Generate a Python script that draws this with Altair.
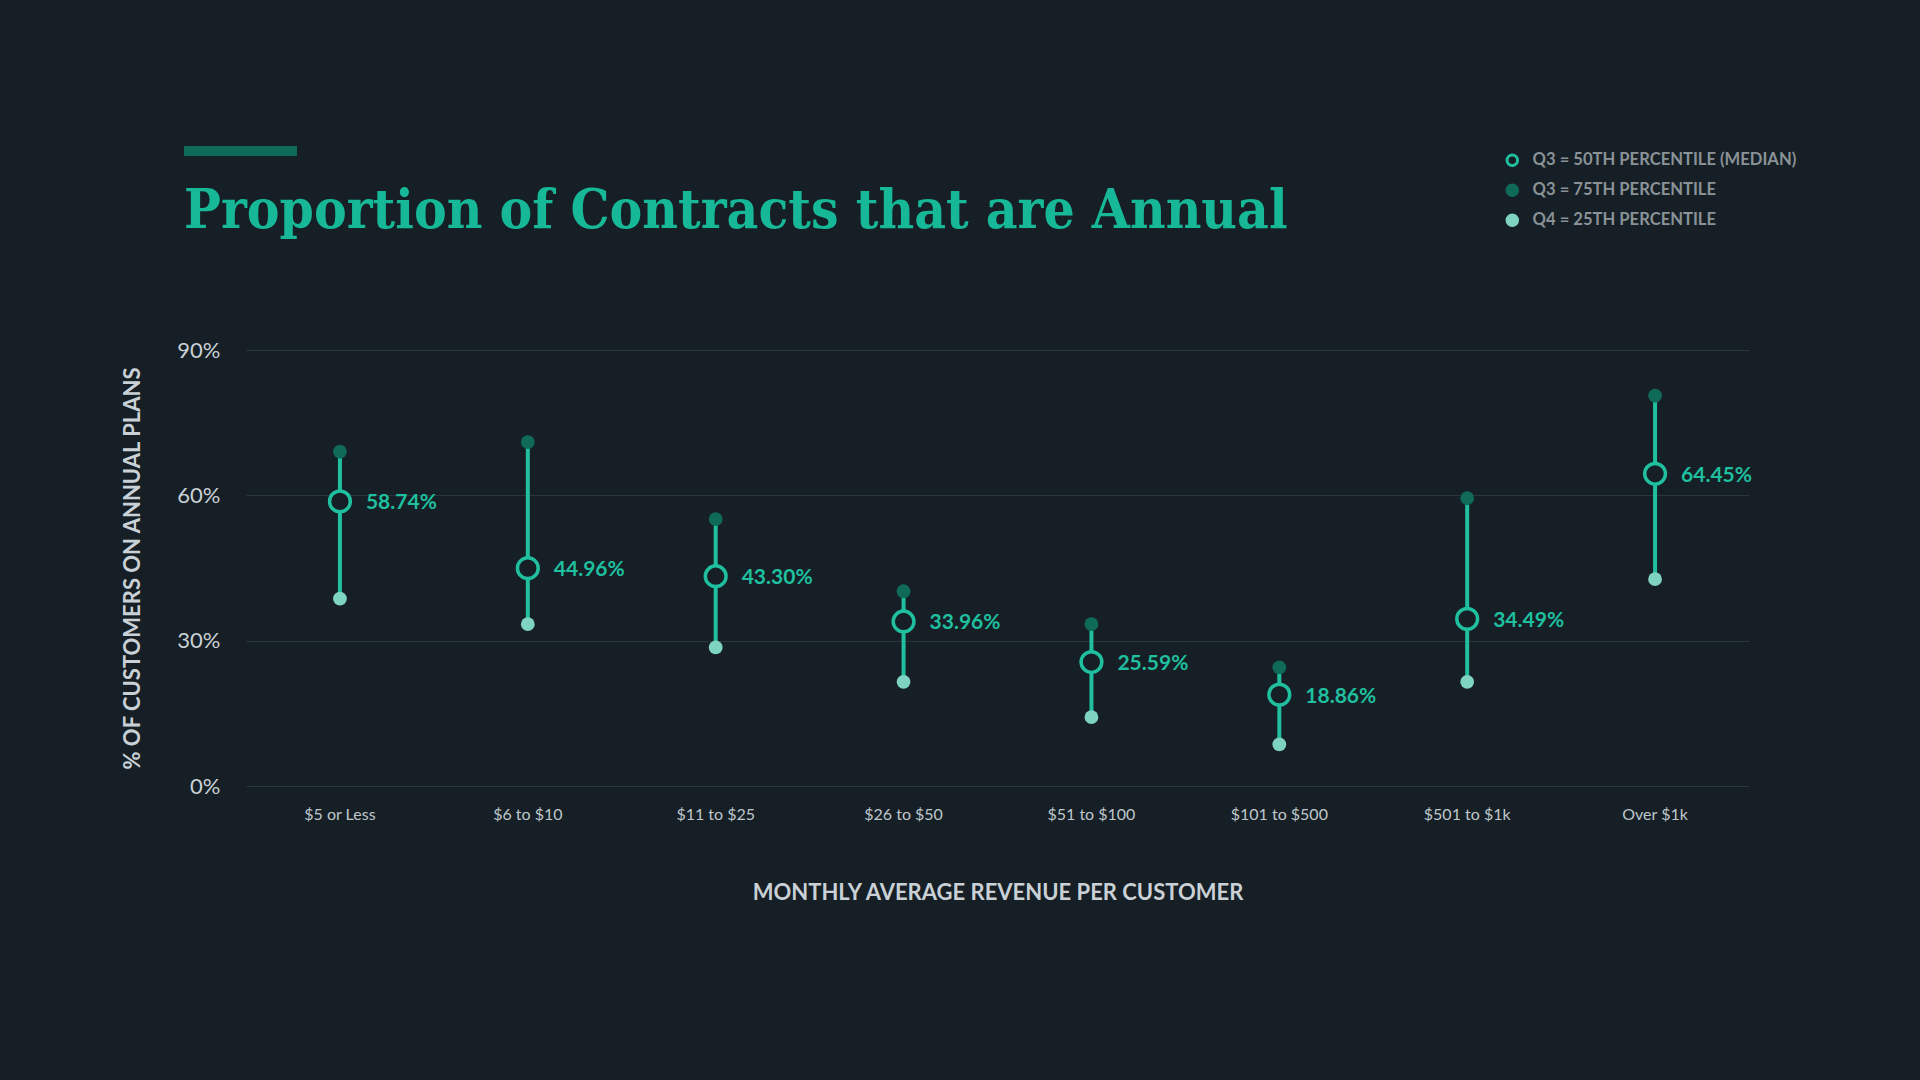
import altair as alt
import pandas as pd

categories = ["$5 or Less", "$6 to $10", "$11 to $25", "$26 to $50",
              "$51 to $100", "$101 to $500", "$501 to $1k", "Over $1k"]
median = [58.74, 44.96, 43.30, 33.96, 25.59, 18.86, 34.49, 64.45]
p75 = [69.0, 71.0, 55.1, 40.2, 33.4, 24.5, 59.4, 80.6]
p25 = [38.7, 33.4, 28.6, 21.5, 14.2, 8.6, 21.5, 42.7]
series_names = ["Q3 = 50TH PERCENTILE (MEDIAN)", "Q3 = 75TH PERCENTILE", "Q4 = 25TH PERCENTILE"]
y_ticks = [0, 30, 60, 90]
title_text = "Proportion of Contracts that are Annual"

BG = "#151f25"
TEAL = "#1fbf9f"
DARK = "#0f6b58"
LIGHT = "#7fd3c1"

wide = pd.DataFrame({"cat": categories, "median": median, "p75": p75, "p25": p25})
wide["label"] = [f"{v:.2f}%" for v in median]

dots = pd.concat([
    pd.DataFrame({"cat": categories, "value": p75, "series": series_names[1]}),
    pd.DataFrame({"cat": categories, "value": p25, "series": series_names[2]}),
])
meds = pd.DataFrame({"cat": categories, "value": median, "series": series_names[0]})

x_enc = alt.X("cat:N", sort=categories, scale=alt.Scale(paddingInner=0, paddingOuter=0),
              axis=alt.Axis(title="MONTHLY AVERAGE REVENUE PER CUSTOMER", labelAngle=0,
                            domain=False, ticks=False, labelPadding=20, titlePadding=60,
                            labelFont="Lato", labelFontSize=16, labelColor="#bfc7cc",
                            titleFont="Lato", titleFontSize=22, titleFontWeight="bold",
                            titleColor="#c9d1d6"))
y_scale = alt.Scale(domain=[0, 90], nice=False)
y_axis = alt.Axis(title="% OF CUSTOMERS ON ANNUAL PLANS", values=y_ticks,
                  labelExpr="datum.value + '%'", domain=False, ticks=False,
                  labelPadding=26, titlePadding=32,
                  labelFont="Lato", labelFontSize=22, labelColor="#c9d1d6",
                  titleFont="Lato", titleFontSize=22, titleFontWeight="bold",
                  titleColor="#c9d1d6", grid=True, gridColor="#2a363d", gridWidth=1)

color_scale_fill = alt.Scale(domain=series_names, range=[BG, DARK, LIGHT])
color_scale_stroke = alt.Scale(domain=series_names, range=[TEAL, DARK, LIGHT])
legend = alt.Legend(title=None, orient="none", legendX=1258, legendY=-198,
                    labelFont="Lato", labelFontSize=16.6, labelFontWeight="bold",
                    labelColor="#8a9297", symbolSize=110, symbolStrokeWidth=3,
                    symbolType="circle", rowPadding=7, labelOffset=12, labelLimit=0)

rules = alt.Chart(wide).mark_rule(color=TEAL, strokeWidth=4).encode(
    x=x_enc,
    y=alt.Y("p25:Q", scale=y_scale, axis=y_axis),
    y2="p75:Q",
)

dot_layer = alt.Chart(dots).mark_circle(size=190, opacity=1, strokeWidth=0).encode(
    x=alt.X("cat:N", sort=categories),
    y=alt.Y("value:Q", scale=y_scale),
    fill=alt.Fill("series:N", scale=color_scale_fill, legend=legend),
    stroke=alt.Stroke("series:N", scale=color_scale_stroke, legend=legend),
)

med_layer = alt.Chart(meds).mark_point(size=430, filled=False, strokeWidth=3.5,
                                       opacity=1, fillOpacity=1).encode(
    x=alt.X("cat:N", sort=categories),
    y=alt.Y("value:Q", scale=y_scale),
    fill=alt.Fill("series:N", scale=color_scale_fill, legend=legend),
    stroke=alt.Stroke("series:N", scale=color_scale_stroke, legend=legend),
)

labels = alt.Chart(wide).mark_text(align="left", baseline="middle", dx=26, dy=2,
                                   font="Lato", fontSize=21, fontWeight="bold",
                                   color=TEAL).encode(
    x=alt.X("cat:N", sort=categories),
    y=alt.Y("median:Q", scale=y_scale),
    text="label:N",
)

one_row = pd.DataFrame({"t": [title_text]})
title_bar = alt.Chart(one_row).mark_rule(color="#0e6b59", strokeWidth=10).encode(
    x=alt.value(-62), x2=alt.value(51), y=alt.value(-199),
)
title_mark = alt.Chart(one_row).mark_text(align="left", baseline="alphabetic",
                                          font="DejaVu Serif Condensed", fontSize=54.6,
                                          fontWeight="bold", color="#17b897").encode(
    x=alt.value(-62), y=alt.value(-122), text="t:N",
)

chart = alt.layer(title_bar, title_mark, rules, dot_layer, med_layer, labels).properties(
    width=1503, height=436,
    autosize=alt.AutoSizeParams(type="none"),
    padding={"left": 246, "top": 350, "right": 171, "bottom": 294},
).configure(background=BG).configure_view(strokeWidth=0)

chart.save("out.html", embed_options={"renderer": "svg", "actions": False})
